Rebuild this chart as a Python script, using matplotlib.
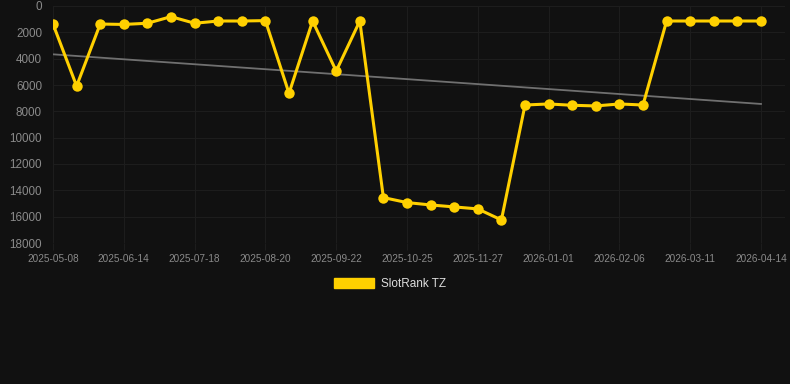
import matplotlib
matplotlib.use("Agg")
import matplotlib.pyplot as plt
from matplotlib.patches import Patch

plt.rcParams['font.family'] = ['Liberation Sans', 'DejaVu Sans']

# ranks, one point roughly every 11 days
rank = [1370, 6080, 1370, 1400, 1310, 810, 1310, 1140, 1140, 1110,
        6630, 1140, 4940, 1140, 14550, 14930, 15110, 15260, 15410, 16250,
        7520, 7440, 7540, 7590, 7440, 7520, 1140, 1140, 1140, 1140, 1140]
tick_labels = ['2025-05-08', '2025-06-14', '2025-07-18', '2025-08-20', '2025-09-22',
               '2025-10-25', '2025-11-27', '2026-01-01', '2026-02-06', '2026-03-11',
               '2026-04-14']
trend = [3670, 7440]   # start / end of the trend line

bg = '#111111'
yellow = '#FFD000'

fig = plt.figure(figsize=(7.9, 3.84), dpi=100, facecolor=bg)
ax = fig.add_axes([53/790, 1-243/384, (785-53)/790, (243-6)/384])
ax.set_facecolor(bg)

x = list(range(len(rank)))
ax.plot([0, len(rank)-1], trend, color='#707070', linewidth=1.3, zorder=2)
ax.plot(x, rank, color=yellow, linewidth=2.2, marker='o', markersize=7.5,
        markeredgewidth=0, zorder=3)

ax.set_ylim(18000, 0)
ax.set_yticks(range(0, 18001, 2000))
ax.set_xlim(0, len(rank)-1 + 24/23.6)
ax.set_xticks(x[::3])
ax.set_xticklabels(tick_labels)

ax.grid(True, color='#1d1d1d', linewidth=0.8)
ax.set_axisbelow(True)
for s in ax.spines.values():
    s.set_visible(False)
ax.tick_params(axis='y', length=0, pad=8, labelsize=8.4, colors='#8a8a8a')
ax.tick_params(axis='x', length=5, width=0.8, color='#1d1d1d', pad=3,
               labelsize=7.2, labelcolor='#8a8a8a')

handle = Patch(facecolor=yellow, edgecolor=yellow)
fig.legend([handle], ['SlotRank TZ'], loc='center', bbox_to_anchor=(390/790, 1-284/384),
           frameon=False, fontsize=8.5, labelcolor='#dddddd',
           handlelength=3.4, handleheight=0.9, handletextpad=0.6)

fig.savefig('out.png', dpi=100, facecolor=bg)
